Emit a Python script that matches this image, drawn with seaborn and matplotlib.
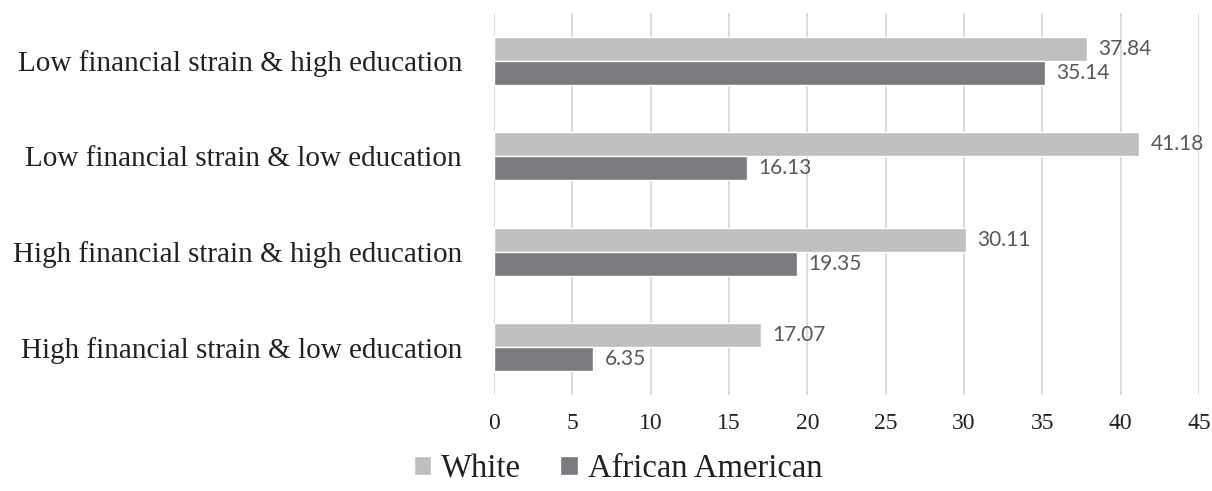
import pandas as pd
import matplotlib.pyplot as plt
import seaborn as sns

# Chart values
groups = [
    "Low financial strain & high education",
    "Low financial strain & low education",
    "High financial strain & high education",
    "High financial strain & low education",
]
white = [37.84, 41.18, 30.11, 17.07]
african_american = [35.14, 16.13, 19.35, 6.35]
series = ["White", "African American"]
x_ticks = [0, 5, 10, 15, 20, 25, 30, 35, 40, 45]

df = pd.DataFrame({
    "group": groups * 2,
    "value": white + african_american,
    "race": [series[0]] * 4 + [series[1]] * 4,
})

sns.set_theme(style="white")
plt.rcParams["font.family"] = ["Liberation Serif", "DejaVu Serif"]

fig = plt.figure(figsize=(12.12, 4.91), dpi=100)
ax = fig.add_axes([0.4076, 0.1955, 0.5817, 0.778])

palette = {"White": "#bfbfc1", "African American": "#7b7b7f"}
sns.barplot(data=df, y="group", x="value", hue="race", order=groups,
            hue_order=series, palette=palette, orient="h", width=0.5,
            saturation=1, ax=ax, legend=True)

for cont in ax.containers:
    ax.bar_label(cont, labels=[f"{v:.2f}" for v in cont.datavalues],
                 padding=8, fontsize=15, color="#595959", family="Lato")

ax.set_xlim(0, 45)
ax.set_xticks(x_ticks)
ax.xaxis.grid(True, color="#d9d9d9", linewidth=1.3)
ax.set_axisbelow(True)
for s in ax.spines.values():
    s.set_visible(False)
ax.set_xlabel("")
ax.set_ylabel("")
ax.tick_params(axis="x", length=0, pad=13, labelsize=17, colors="#222222")
ax.tick_params(axis="y", length=0, pad=23, labelsize=21, colors="#222222")

handles, labels = ax.get_legend_handles_labels()
ax.get_legend().remove()
fig.legend(handles, labels, loc="center", bbox_to_anchor=(0.51, 0.045),
           ncol=2, frameon=False, fontsize=23.5, handlelength=0.55,
           handleheight=0.55, handletextpad=0.3, columnspacing=1.2,
           labelcolor="#222222")

fig.savefig("out.png", dpi=100)
